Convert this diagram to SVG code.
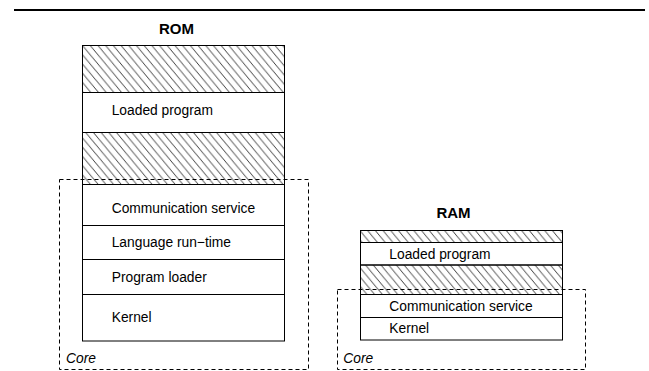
<svg xmlns="http://www.w3.org/2000/svg" width="649" height="371" viewBox="0 0 649 371">
<defs>
<pattern id="hatch" patternUnits="userSpaceOnUse" x="82.5" y="45.5" width="7.7" height="9.24">
<path d="M-1,-1.2 L8.7,10.44 M-1,8.04 L1,10.44 M6.7,-1.2 L8.7,1.2" stroke="#000" stroke-width="0.75" fill="none"/>
</pattern>
<style>
.row{fill:#fff;stroke:#000;stroke-width:1}
.hat{fill:url(#hatch);stroke:#000;stroke-width:1}
.lbl{font-family:"Liberation Sans",Arial,sans-serif;font-size:13.8px;fill:#000}
.ttl{font-family:"Liberation Sans",Arial,sans-serif;font-size:15px;font-weight:bold;fill:#000;text-anchor:middle}
.core{fill:none;stroke:#000;stroke-width:1;stroke-dasharray:4,3}
.corelbl{font-family:"Liberation Sans",Arial,sans-serif;font-size:13.8px;font-style:italic;fill:#000}
</style>
</defs>
<rect width="649" height="371" fill="#fff"/>
<line x1="14" y1="10" x2="645" y2="10" stroke="#000" stroke-width="2"/>

<g id="rom">
<text class="ttl" x="176.5" y="34">ROM</text>
<rect class="hat" x="82.5" y="45.5" width="202" height="47"/>
<rect class="row" x="82.5" y="92.5" width="202" height="40"/>
<text class="lbl" x="111.7" y="115">Loaded program</text>
<rect class="hat" x="82.5" y="132.5" width="202" height="52"/>
<rect class="row" x="82.5" y="184.5" width="202" height="41"/>
<text class="lbl" x="111.7" y="212.7">Communication service</text>
<rect class="row" x="82.5" y="225.5" width="202" height="34"/>
<text class="lbl" x="111.7" y="247">Language run−time</text>
<rect class="row" x="82.5" y="259.5" width="202" height="35"/>
<text class="lbl" x="111.7" y="281.7">Program loader</text>
<rect class="row" x="82.5" y="294.5" width="202" height="46.5"/>
<text class="lbl" x="111.7" y="321.7">Kernel</text>
</g>

<g id="ram">
<text class="ttl" x="453.5" y="218.3">RAM</text>
<rect class="hat" x="360.5" y="230.5" width="202" height="12"/>
<rect class="row" x="360.5" y="242.5" width="202" height="22.5"/>
<text class="lbl" x="389.3" y="259.3">Loaded program</text>
<rect class="hat" x="360.5" y="265" width="202" height="29.5"/>
<rect class="row" x="360.5" y="294.5" width="202" height="23"/>
<text class="lbl" x="389.3" y="311">Communication service</text>
<rect class="row" x="360.5" y="317.5" width="202" height="22.5"/>
<text class="lbl" x="389.3" y="333">Kernel</text>
</g>

<g id="core-rom">
<rect class="core" x="59.5" y="179.5" width="249" height="190"/>
<text class="corelbl" x="66" y="363">Core</text>
</g>

<g id="core-ram">
<rect class="core" x="337.5" y="289.5" width="248" height="80"/>
<text class="corelbl" x="343.3" y="363">Core</text>
</g>
</svg>
